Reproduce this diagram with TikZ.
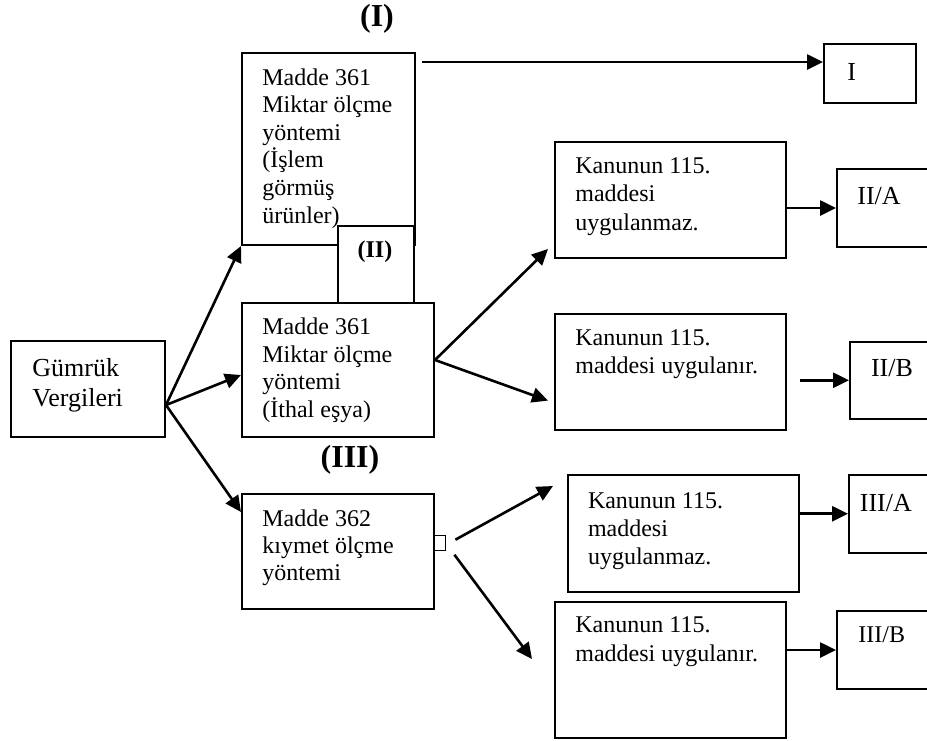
\documentclass[tikz,border=0pt]{standalone}
\usepackage{fontspec}
\setmainfont{Liberation Serif}
\usetikzlibrary{arrows.meta,calc}

\tikzset{
  kutu/.style={draw, line width=1pt, anchor=north west, inner sep=0pt},
  yazi/.style={anchor=base west, align=left, inner sep=0pt, font={\fontsize{12}{13.8}\selectfont}},
  etiket/.style={anchor=base, inner sep=0pt, font={\fontsize{16}{18}\selectfont\bfseries}},
  ok/.style={line width=1.3pt, -{Triangle[length=8pt,width=7.5pt]}},
}

\begin{document}
\begin{tikzpicture}[x=0.5pt, y=-0.5pt]
   \useasboundingbox (0,0) rectangle (927,740);
   \fill[white] (0,0) rectangle (927,740);
   % sol taraf (yazilar son satirin tabanina gore)
   \node[kutu, minimum width=77pt, minimum height=48pt] (gumruk) at (10,340) {};
   \node[yazi, font={\fontsize{13}{15}\selectfont}] (tgumruk) at (32,406) {Gümrük\\Vergileri};
   \node[kutu, minimum width=86.5pt, minimum height=96pt] (madde361a) at (241,52) {};
   \node[yazi] (tmadde361a) at (262,223) {Madde 361\\Miktar ölçme\\yöntemi\\(İşlem\\görmüş\\ürünler)};
   \node[kutu, fill=white, minimum width=38pt, minimum height=38.5pt] (kutuII) at (337,225) {};
   \node[etiket, font={\fontsize{12}{14}\selectfont\bfseries}] (etiketII) at (375,257) {(II)};
   \node[etiket] (etiketI) at (377,26) {(I)};
   \node[kutu, minimum width=96pt, minimum height=67pt] (madde361b) at (241,302) {};
   \node[yazi] (tmadde361b) at (262,417.5) {Madde 361\\Miktar ölçme\\yöntemi\\(İthal eşya)};
   \node[etiket] (etiketIII) at (350,467) {(III)};
   \node[kutu, minimum width=96pt, minimum height=57.5pt] (madde362) at (241,493) {};
   \node[yazi, font={\fontsize{12}{13.4}\selectfont}] (tmadde362) at (262,580) {Madde 362\\kıymet ölçme\\yöntemi};
   \node[kutu, line width=0.7pt, minimum width=6pt, minimum height=7.5pt] (kare) at (433,535) {};
   % orta
   \node[kutu, minimum width=115.5pt, minimum height=58.25pt] (kanunA) at (554,140.5) {};
   \node[yazi, font={\fontsize{12}{14.2}\selectfont}] (tkanunA) at (575,230) {Kanunun 115.\\maddesi\\uygulanmaz.};
   \node[kutu, minimum width=115.5pt, minimum height=58pt] (kanunB) at (554,312.6) {};
   \node[yazi] (tkanunB) at (575,373) {Kanunun 115.\\maddesi uygulanır.};
   \node[kutu, minimum width=115.5pt, minimum height=58.25pt] (kanunC) at (567,474) {};
   \node[yazi] (tkanunC) at (587.6,564) {Kanunun 115.\\maddesi\\uygulanmaz.};
   \node[kutu, minimum width=115.5pt, minimum height=68pt] (kanunD) at (554,601) {};
   \node[yazi, font={\fontsize{12}{14.4}\selectfont}] (tkanunD) at (575,661.5) {Kanunun 115.\\maddesi uygulanır.};
   % sag
   \node[kutu, minimum width=46pt, minimum height=29.25pt] (kutuI) at (823,43) {};
   \node[yazi, font={\fontsize{13}{15}\selectfont}] (tkutuI) at (847,80) {I};
   \node[kutu, minimum width=62pt, minimum height=39pt] (kutuIIA) at (836,168) {};
   \node[yazi, font={\fontsize{13}{15}\selectfont}] (tkutuIIA) at (857,204) {II/A};
   \node[kutu, minimum width=55.5pt, minimum height=38.75pt] (kutuIIB) at (849,340.5) {};
   \node[yazi, font={\fontsize{13}{15}\selectfont}] (tkutuIIB) at (870.6,376) {II/B};
   \node[kutu, minimum width=56pt, minimum height=38.75pt] (kutuIIIA) at (848,474) {};
   \node[yazi, font={\fontsize{13}{15}\selectfont}] (tkutuIIIA) at (859.5,511) {III/A};
   \node[kutu, minimum width=62pt, minimum height=39pt] (kutuIIIB) at (836,610) {};
   \node[yazi] (tkutuIIIB) at (858,642) {III/B};
   % oklar
   \draw[ok] ([yshift=-8pt]gumruk.east) -- (madde361a.south west);
   \draw[ok] ([yshift=-8pt]gumruk.east) -- ([yshift=-2.5pt]madde361b.west);
   \draw[ok] ([yshift=-8pt]gumruk.east) -- ([yshift=-9.5pt]madde362.north west);
   \coordinate (basI) at ($(madde361a.north east)+(3pt,-5pt)$);
   \draw[ok] (basI) -- (basI -| kutuI.west);
   \draw[ok] ([yshift=5pt]madde361b.east) -- ([shift={(-3pt,5pt)}]kanunA.south west);
   \draw[ok] ([yshift=5pt]madde361b.east) -- ([shift={(-3pt,15pt)}]kanunB.south west);
   \draw[ok] ([shift={(4.5pt,1.75pt)}]kare.east) -- ([shift={(-7pt,-6pt)}]kanunC.north west);
   \draw[ok] ([shift={(4pt,-5.75pt)}]kare.east) -- ([shift={(-11pt,5.5pt)}]kanunD.west);
   \draw[ok] (kanunA.east |- kutuIIA.west) -- (kutuIIA.west);
   \draw[ok] ($(kanunB.east |- kutuIIB.west)+(6.5pt,0)$) -- (kutuIIB.west);
   \draw[ok] (kanunC.east |- kutuIIIA.west) -- (kutuIIIA.west);
   \draw[ok] (kanunD.east |- kutuIIIB.west) -- (kutuIIIB.west);
\end{tikzpicture}
\end{document}
